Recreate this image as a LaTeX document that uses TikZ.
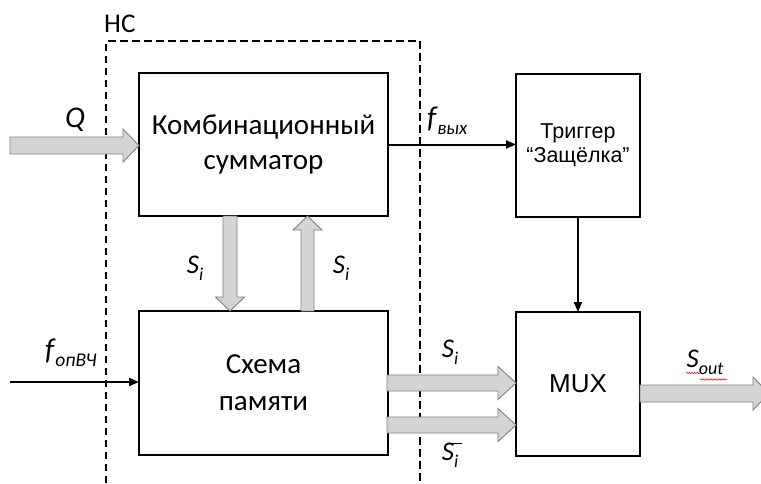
\documentclass[tikz,border=0pt]{standalone}
\usepackage{fontspec}
\setmainfont{Carlito}
\newfontfamily\arialfont{Liberation Sans}
\usetikzlibrary{arrows.meta,calc,decorations.pathmorphing}

% subscript set in a fixed size
\newcommand{\lowidx}[2]{\raisebox{-0.25em}{\fontsize{#1}{#1}\selectfont\itshape #2}}

% horizontal block arrow: tail, tip, shaft half-width, head half-width, head length
\newcommand{\hfat}[5]{%
  \filldraw[fat] let \p1=#1, \p2=#2 in
    (\x1,{\y2+#3pt}) -- ({\x2-#5pt},{\y2+#3pt}) -- ({\x2-#5pt},{\y2+#4pt}) --
    (\x2,\y2) -- ({\x2-#5pt},{\y2-#4pt}) -- ({\x2-#5pt},{\y2-#3pt}) --
    (\x1,{\y2-#3pt}) -- cycle;}
% vertical block arrow: tail, tip, shaft half-width, head half-width, signed head length
\newcommand{\vfat}[5]{%
  \filldraw[fat] let \p1=#1, \p2=#2 in
    ({\x2+#3pt},\y1) -- ({\x2+#3pt},{\y2+(#5)*1pt}) -- ({\x2+#4pt},{\y2+(#5)*1pt}) --
    (\x2,\y2) -- ({\x2-#4pt},{\y2+(#5)*1pt}) -- ({\x2-#3pt},{\y2+(#5)*1pt}) --
    ({\x2-#3pt},\y1) -- cycle;}

\begin{document}
\begin{tikzpicture}[x=1pt,y=-1pt,
  blk/.style={draw, line width=2.4pt, outer sep=0pt, inner sep=0pt, align=center, anchor=north west},
  fat/.style={fill=black!17, draw=black!50, line width=0.9pt},
  thin/.style={line width=2pt, -{Triangle[length=10pt,width=8pt]}},
  bound/.style={dashed, line width=2pt, dash pattern=on 7.5pt off 4.5pt},
  lbl/.style={font=\fontsize{27}{27}\selectfont\itshape, inner sep=0pt}]
\useasboundingbox (0,0) rectangle (761,483);

% building blocks
\node[blk, minimum width=249pt, minimum height=143pt,
      font=\fontsize{29}{35}\selectfont] (sum) at (139,73) {Комбинационный\\сумматор};
\node[blk, minimum width=249pt, minimum height=144pt,
      font=\fontsize{29}{37}\selectfont] (mem) at (139,311) {Схема\\памяти};
\node[blk, minimum width=124pt, minimum height=143pt,
      font=\arialfont\fontsize{21.5}{24}\selectfont] (trig) at (516,74) {Триггер\\“Защёлка”};
\node[blk, minimum width=124pt, minimum height=144pt,
      font=\arialfont\fontsize{26}{26}\selectfont] (mux) at (516,312) {MUX};

% dashed outline of the НС part
\coordinate (hcBL) at (106,483);
\coordinate (hcTL) at (106,41);
\coordinate (hcTR) at (420,41);
\coordinate (hcBR) at (420,483);
\draw[bound] (hcBL) -- (hcTL) -- (hcTR) -- (hcBR);
\node[font=\fontsize{27}{27}\selectfont, anchor=base west, inner sep=0pt] (hcLabel) at (104,32) {НС};

% input Q
\coordinate (qIn) at (10,145.5);
\hfat{(qIn)}{(qIn -| sum.west)}{8.5}{16.5}{16}
\node[font=\fontsize{30}{30}\selectfont\itshape, inner sep=0pt] (qLabel) at (75,120) {Q};

% sum -> latch
\draw[thin] (sum.east) -- (sum.east -| trig.west);
\node[inner sep=0pt, anchor=base west] (fOut) at (427,127)
  {\fontsize{30}{30}\selectfont\itshape f\kern1pt\lowidx{19}{вых}};

% exchange between adder and memory
\path ([xshift=-33.5pt]sum.south) coordinate (dnTop) (dnTop |- mem.north) coordinate (dnBot);
\path ([xshift=44pt]mem.north) coordinate (upBot) (upBot |- sum.south) coordinate (upTop);
\vfat{(dnTop)}{(dnBot)}{7}{14.5}{14}
\vfat{(upBot)}{(upTop)}{6.5}{14.5}{-14}
\node[lbl] (siDown) at (195,268) {S\lowidx{18}{i}};
\node[lbl] (siUp) at (341,268) {S\lowidx{18}{i}};

% clock input
\coordinate (clkIn) at (10,382);
\draw[thin] (clkIn) -- (clkIn -| mem.west);
\node[inner sep=0pt, anchor=base west] (fClk) at (45,359)
  {\fontsize{30}{30}\selectfont\itshape f\kern1pt\lowidx{19.5}{опВЧ}};

% memory -> MUX
\coordinate (sOutA) at (387,383);
\coordinate (sOutB) at (387,425);
\hfat{(sOutA)}{(sOutA -| mux.west)}{8}{16.5}{18}
\hfat{(sOutB)}{(sOutB -| mux.west)}{8}{16.5}{18}
\node[lbl] (siA) at (450,352) {S\lowidx{18}{i}};
\node[lbl] (siB) at (450,455) {S\lowidx{18}{i}};
\draw[line width=0.8pt] ([xshift=-3pt,yshift=-1pt]siB.north) -- ([xshift=12pt,yshift=-1pt]siB.north);

% latch -> MUX
\draw[thin] (trig.south) -- (trig.south |- mux.north);

% output
\coordinate (muxOut) at (640,393.5);
\hfat{(muxOut)}{(769,393.5)}{8.5}{16.5}{16}
\node[lbl, font=\fontsize{27}{27}\selectfont\itshape] (sOut) at (705,362) {S\lowidx{18}{out}};
\draw[red!85!black, line width=0.5pt, decorate,
      decoration={snake, amplitude=0.7pt, segment length=2.6pt}]
  (686,373) -- (700,373);
\draw[red!85!black, line width=0.5pt, decorate,
      decoration={snake, amplitude=0.7pt, segment length=2.6pt}]
  (700,379.5) -- (727,379.5);
\end{tikzpicture}
\end{document}
